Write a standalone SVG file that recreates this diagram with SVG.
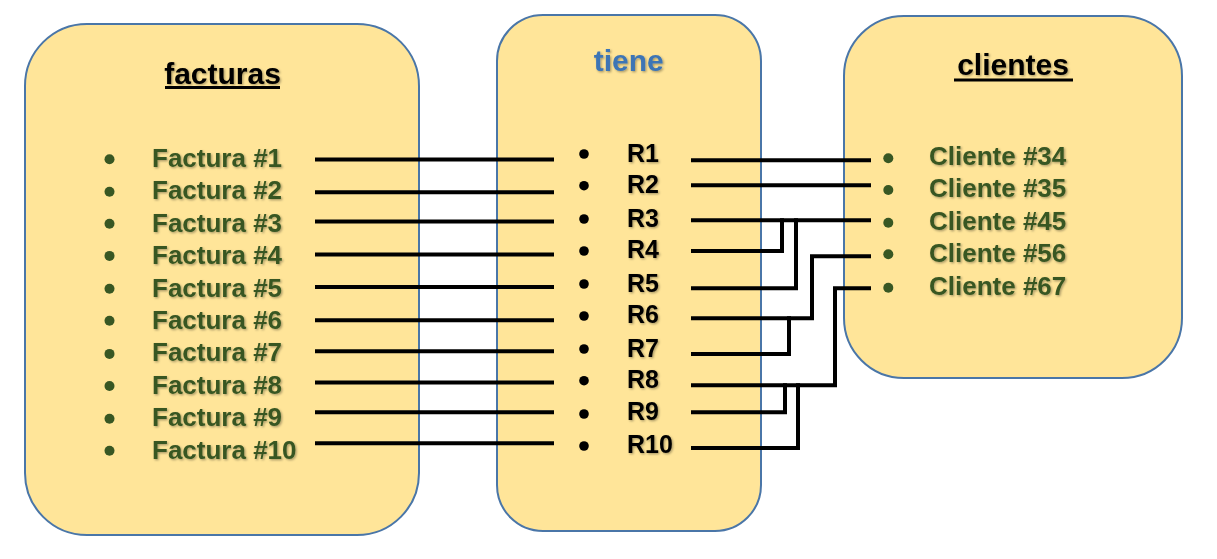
<svg xmlns="http://www.w3.org/2000/svg" width="1217" height="559" viewBox="0 0 1217 559">
  <defs>
    <filter id="sh" x="-10%" y="-20%" width="130%" height="150%">
      <feDropShadow dx="1.2" dy="1.2" stdDeviation="0.8" flood-color="#000" flood-opacity="0.35"/>
    </filter>
  </defs>
  <style>
    .box { fill: #FFE599; stroke: #4A76A8; stroke-width: 2; }
    .title { font-family: "Liberation Sans", Arial, sans-serif; font-weight: bold; font-size: 30px; text-anchor: middle; filter: url(#sh); }
    .item { font-family: "Liberation Sans", Arial, sans-serif; font-weight: bold; font-size: 26px; fill: #385723; filter: url(#sh); }
    .rel { font-family: "Liberation Sans", Arial, sans-serif; font-weight: bold; font-size: 25px; fill: #000; filter: url(#sh); }
    .gb { fill: #385723; }
    .bb { fill: #000; }
    .conn { fill: none; stroke: #000; stroke-width: 4; }
  </style>

  <g id="facturas-box">
    <rect class="box" x="25" y="24" width="394" height="511" rx="62" ry="62"/>
  </g>
  <g id="tiene-box">
    <rect class="box" x="497" y="15" width="264" height="516" rx="46" ry="46"/>
  </g>
  <g id="clientes-box">
    <rect class="box" x="844" y="16" width="338" height="362" rx="60" ry="60"/>
  </g>

  <g id="connectors">
    <path class="conn" d="M315 159.5H554"/>
    <path class="conn" d="M315 192.3H554"/>
    <path class="conn" d="M315 221.5H554"/>
    <path class="conn" d="M315 254.5H554"/>
    <path class="conn" d="M315 287H554"/>
    <path class="conn" d="M315 320.2H554"/>
    <path class="conn" d="M315 351.2H554"/>
    <path class="conn" d="M315 382.4H554"/>
    <path class="conn" d="M315 412.3H554"/>
    <path class="conn" d="M315 443.3H554"/>

    <path class="conn" d="M691 160.3H871"/>
    <path class="conn" d="M691 185.3H871"/>
    <path class="conn" d="M691 220.3H871"/>
    <path class="conn" d="M691 251H782V218.3"/>
    <path class="conn" d="M691 288.3H796V218.3"/>
    <path class="conn" d="M691 318.3H812V256.3H871"/>
    <path class="conn" d="M691 354H789V316.3"/>
    <path class="conn" d="M691 385.3H835V288.3H871"/>
    <path class="conn" d="M691 412.3H785V383.3"/>
    <path class="conn" d="M691 448H798V383.3"/>
  </g>

  <g id="facturas">
    <text class="title" x="222.5" y="84" fill="#000">facturas</text>
    <rect x="165" y="86" width="115" height="3" fill="#000"/>
    <g class="gb">
      <circle cx="109.5" cy="159.3" r="5"/>
      <circle cx="109.5" cy="191.7" r="5"/>
      <circle cx="109.5" cy="223.8" r="5"/>
      <circle cx="109.5" cy="255.9" r="5"/>
      <circle cx="109.5" cy="288.7" r="5"/>
      <circle cx="109.5" cy="320.7" r="5"/>
      <circle cx="109.5" cy="353.9" r="5"/>
      <circle cx="109.5" cy="386" r="5"/>
      <circle cx="109.5" cy="418.7" r="5"/>
      <circle cx="109.5" cy="450.8" r="5"/>
    </g>
    <text class="item" x="152" y="167">Factura #1</text>
    <text class="item" x="152" y="199.4">Factura #2</text>
    <text class="item" x="152" y="231.8">Factura #3</text>
    <text class="item" x="152" y="264.2">Factura #4</text>
    <text class="item" x="152" y="296.6">Factura #5</text>
    <text class="item" x="152" y="329">Factura #6</text>
    <text class="item" x="152" y="361.4">Factura #7</text>
    <text class="item" x="152" y="393.8">Factura #8</text>
    <text class="item" x="152" y="426.2">Factura #9</text>
    <text class="item" x="152" y="458.6">Factura #10</text>
  </g>

  <g id="tiene">
    <text class="title" x="628.7" y="71" fill="#3E75B5">tiene</text>
    <g class="bb">
      <circle cx="584" cy="154" r="4.8"/>
      <circle cx="584" cy="185.7" r="4.8"/>
      <circle cx="584" cy="219" r="4.8"/>
      <circle cx="584" cy="251" r="4.8"/>
      <circle cx="584" cy="284" r="4.8"/>
      <circle cx="584" cy="316" r="4.8"/>
      <circle cx="584" cy="349" r="4.8"/>
      <circle cx="584" cy="380.7" r="4.8"/>
      <circle cx="584" cy="414" r="4.8"/>
      <circle cx="584" cy="446" r="4.8"/>
    </g>
    <text class="rel" x="627" y="161.7">R1</text>
    <text class="rel" x="627" y="193.3">R2</text>
    <text class="rel" x="627" y="226.7">R3</text>
    <text class="rel" x="627" y="258.3">R4</text>
    <text class="rel" x="627" y="291.7">R5</text>
    <text class="rel" x="627" y="323.3">R6</text>
    <text class="rel" x="627" y="356.7">R7</text>
    <text class="rel" x="627" y="388.3">R8</text>
    <text class="rel" x="627" y="420">R9</text>
    <text class="rel" x="627" y="452.7">R10</text>
  </g>

  <g id="clientes">
    <text class="title" x="1013" y="75" fill="#000">clientes</text>
    <rect x="954" y="78.5" width="119" height="3" fill="#000"/>
    <g class="gb">
      <circle cx="888.3" cy="158.3" r="5"/>
      <circle cx="888.3" cy="190" r="5"/>
      <circle cx="888.3" cy="222.7" r="5"/>
      <circle cx="888.3" cy="254.3" r="5"/>
      <circle cx="888.3" cy="287.7" r="5"/>
    </g>
    <text class="item" x="929" y="165">Cliente #34</text>
    <text class="item" x="929" y="196.7">Cliente #35</text>
    <text class="item" x="929" y="230">Cliente #45</text>
    <text class="item" x="929" y="261.7">Cliente #56</text>
    <text class="item" x="929" y="295">Cliente #67</text>
  </g>
</svg>
